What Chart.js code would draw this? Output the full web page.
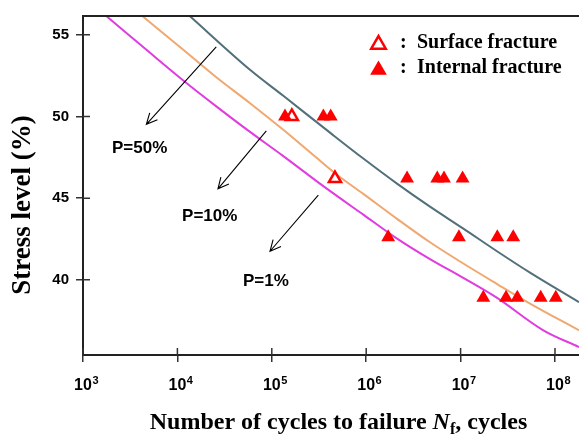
<!DOCTYPE html>
<html>
<head>
<meta charset="utf-8">
<script src="https://cdn.jsdelivr.net/npm/chart.js@4"></script>
<style>
html, body { margin: 0; padding: 0; background: #fff; }
</style>
</head>
<body>
<canvas id="myChart" width="579" height="434"></canvas>
<script>
// tick values
const xTickExp = [3, 4, 5, 6, 7, 8];
const yTicks = [40, 45, 50, 55];

// test data (cycles to failure, stress level %)
const internalN = [1.38e5, 3.52e5, 4.21e5, 2.71e6, 5.66e6, 6.67e6, 1.05e7, 1.71e6, 9.6e6, 2.45e7, 3.61e7, 1.74e7, 3.03e7, 3.99e7, 7.06e7, 1.02e8];
const internalS = [50, 50, 50, 46.2, 46.2, 46.2, 46.2, 42.6, 42.6, 42.6, 42.6, 38.9, 38.9, 38.9, 38.9, 38.9];
const surfaceN = [1.63e5, 4.67e5];
const surfaceS = [50, 46.2];

// P-S-N curves, points
const p50N = [1.35e4, 5.876e4, 1.314e5, 4.135e5, 9.25e5, 2.12e6, 4.74e6, 1.06e7, 2.43e7, 5.44e7, 1.796e8];
const p50S = [56.15, 52.86, 51.28, 49.01, 47.44, 45.89, 44.48, 43.15, 41.75, 40.44, 38.63];
const p10N = [4.25e3, 1.146e4, 2.583e4, 5.833e4, 1.314e5, 2.939e5, 4.673e5, 9.318e5, 2.104e6, 4.74e6, 1.068e7, 2.413e7, 5.44e7, 1.796e8];
const p10S = [56.15, 54.10, 52.40, 50.83, 49.20, 47.50, 46.53, 45.26, 43.75, 42.30, 41.00, 39.76, 38.55, 36.91];
const p1N = [1.765e3, 5.089e3, 1.146e4, 2.583e4, 5.833e4, 1.314e5, 3.486e5, 9.318e5, 2.104e6, 4.74e6, 1.068e7, 2.413e7, 7.52e7, 1.796e8];
const p1S = [56.15, 53.91, 52.22, 50.62, 49.07, 47.59, 45.75, 43.99, 42.54, 41.27, 40.12, 38.91, 36.91, 35.89];

// annotations
const probLabels = ['P=50%', 'P=10%', 'P=1%'];
const labelAt = [[2.03e3, 48.05], [1.12e4, 43.87], [4.95e4, 39.94]];
const arrowFrom = [[2.58e4, 54.26], [8.75e4, 49.12], [3.11e5, 45.18]];
const arrowTo = [[4.69e3, 49.52], [2.69e4, 45.57], [9.57e4, 41.75]];

const pts = (xs, ys) => xs.map((v, i) => ({ x: v, y: ys[i] }));

const decor = {
    id: 'decor',
    afterDraw(chart) {
        const { ctx, chartArea: a, scales: { x, y } } = chart;
        ctx.save();

        // frame top line
        ctx.strokeStyle = '#222';
        ctx.lineWidth = 2;
        ctx.beginPath();
        ctx.moveTo(a.left, a.top);
        ctx.lineTo(a.right, a.top);
        ctx.stroke();

        // inner half of tick marks
        ctx.strokeStyle = '#333';
        ctx.lineWidth = 1.5;
        ctx.beginPath();
        x.ticks.forEach(t => {
            const px = x.getPixelForValue(t.value);
            ctx.moveTo(px, a.bottom);
            ctx.lineTo(px, a.bottom - 7);
        });
        y.ticks.forEach(t => {
            const py = y.getPixelForValue(t.value);
            ctx.moveTo(a.left, py);
            ctx.lineTo(a.left + 7, py);
        });
        ctx.stroke();

        // x tick labels: 10 with raised exponent
        ctx.fillStyle = '#000';
        ctx.textBaseline = 'middle';
        x.ticks.forEach(t => {
            const px = x.getPixelForValue(t.value);
            const e = String(Math.round(Math.log10(t.value)));
            ctx.font = 'bold 16px "Liberation Sans", Arial, sans-serif';
            ctx.textAlign = 'center';
            ctx.fillText('10', px, 386);
            const w = ctx.measureText('10').width;
            ctx.font = 'bold 11px "Liberation Sans", Arial, sans-serif';
            ctx.textAlign = 'left';
            ctx.fillText(e, px + w / 2 + 0.5, 381);
        });

        // arrows
        ctx.strokeStyle = '#000';
        ctx.lineWidth = 1.1;
        arrowFrom.forEach((f, i) => {
            const x0 = x.getPixelForValue(f[0]), y0 = y.getPixelForValue(f[1]);
            const x1 = x.getPixelForValue(arrowTo[i][0]), y1 = y.getPixelForValue(arrowTo[i][1]);
            const ang = Math.atan2(y1 - y0, x1 - x0);
            ctx.beginPath();
            ctx.moveTo(x0, y0);
            ctx.lineTo(x1, y1);
            ctx.moveTo(x1 - 12 * Math.cos(ang - 0.45), y1 - 12 * Math.sin(ang - 0.45));
            ctx.lineTo(x1, y1);
            ctx.lineTo(x1 - 12 * Math.cos(ang + 0.45), y1 - 12 * Math.sin(ang + 0.45));
            ctx.stroke();
        });

        // P labels
        ctx.fillStyle = '#000';
        ctx.font = 'bold 17px "Liberation Sans", Arial, sans-serif';
        ctx.textAlign = 'left';
        ctx.textBaseline = 'middle';
        probLabels.forEach((s, i) => {
            ctx.fillText(s, x.getPixelForValue(labelAt[i][0]), y.getPixelForValue(labelAt[i][1]));
        });

        // legend
        const legendRows = [
            { ds: chart.data.datasets[1], y: 44.5, ty: 42.5, text: 'Surface fracture' },
            { ds: chart.data.datasets[0], y: 70, ty: 67.5, text: 'Internal fracture' }
        ];
        legendRows.forEach(r => {
            ctx.fillStyle = r.ds.pointBackgroundColor;
            ctx.strokeStyle = r.ds.pointBorderColor;
            ctx.lineWidth = r.ds.pointBorderWidth;
            Chart.helpers.drawPoint(ctx, {
                pointStyle: 'triangle', radius: r.ds.pointRadius * 1.2,
                borderWidth: r.ds.pointBorderWidth, rotation: 0
            }, 378.5, r.y);
            ctx.fillStyle = '#000';
            ctx.font = 'bold 20px "Liberation Serif", "Times New Roman", serif';
            ctx.textBaseline = 'middle';
            ctx.fillText(':', 400, r.ty);
            ctx.fillText(r.text, 417, r.ty);
        });

        // y title
        ctx.save();
        ctx.translate(23, 205);
        ctx.rotate(-Math.PI / 2);
        ctx.textAlign = 'center';
        ctx.textBaseline = 'middle';
        ctx.font = 'bold 27px "Liberation Serif", "Times New Roman", serif';
        ctx.fillText('Stress level (%)', 0, 0);
        ctx.restore();

        // x title with italic N and subscript f
        const big = 'bold 24px "Liberation Serif", "Times New Roman", serif';
        const ital = 'italic bold 24px "Liberation Serif", "Times New Roman", serif';
        const small = 'bold 16px "Liberation Serif", "Times New Roman", serif';
        const parts = [
            { t: 'Number of cycles to failure ', f: big, dy: 0 },
            { t: 'N', f: ital, dy: 0 },
            { t: 'f', f: small, dy: 5 },
            { t: ', cycles', f: big, dy: 0 }
        ];
        let w = 0;
        parts.forEach(p => { ctx.font = p.f; w += ctx.measureText(p.t).width; });
        let cx = 338.5 - w / 2;
        ctx.textAlign = 'left';
        ctx.textBaseline = 'alphabetic';
        parts.forEach(p => {
            ctx.font = p.f;
            ctx.fillText(p.t, cx, 429 + p.dy);
            cx += ctx.measureText(p.t).width;
        });

        ctx.restore();
    }
};

const ctx = document.getElementById('myChart').getContext('2d');

const config = {
    type: 'scatter',
    data: {
        datasets: [{
            label: 'Internal fracture',
            data: pts(internalN, internalS),
            pointStyle: 'triangle',
            pointRadius: 8,
            pointBackgroundColor: '#ff0000',
            pointBorderColor: '#ff0000',
            pointBorderWidth: 0,
            order: 0
        }, {
            label: 'Surface fracture',
            data: pts(surfaceN, surfaceS),
            pointStyle: 'triangle',
            pointRadius: 7,
            pointBackgroundColor: '#ffffff',
            pointBorderColor: '#ff0000',
            pointBorderWidth: 2.5,
            order: 1
        }, {
            label: 'P=50%',
            data: pts(p50N, p50S),
            showLine: true,
            borderColor: '#52707a',
            borderWidth: 2,
            pointRadius: 0,
            cubicInterpolationMode: 'monotone',
            order: 2
        }, {
            label: 'P=10%',
            data: pts(p10N, p10S),
            showLine: true,
            borderColor: '#f0a870',
            borderWidth: 2,
            pointRadius: 0,
            cubicInterpolationMode: 'monotone',
            order: 2
        }, {
            label: 'P=1%',
            data: pts(p1N, p1S),
            showLine: true,
            borderColor: '#e03ce0',
            borderWidth: 2,
            pointRadius: 0,
            cubicInterpolationMode: 'monotone',
            order: 2
        }]
    },
    options: {
        responsive: false,
        animation: false,
        layout: { autoPadding: false, padding: { top: 12, left: 0, right: 0, bottom: 0 } },
        scales: {
            x: {
                type: 'logarithmic',
                min: 1e3,
                max: 1.796e8,
                afterBuildTicks: s => { s.ticks = xTickExp.map(e => ({ value: Math.pow(10, e) })); },
                afterFit: s => { s.height = 79; },
                grid: { drawOnChartArea: false, tickLength: 7, color: '#333', lineWidth: 1.5 },
                border: { color: '#222', width: 2 },
                ticks: {
                    autoSkip: false,
                    maxRotation: 0,
                    callback: () => ''
                }
            },
            y: {
                min: 35.4,
                max: 56.15,
                afterBuildTicks: s => { s.ticks = yTicks.map(v => ({ value: v })); },
                afterFit: s => { s.width = 83; },
                grid: { drawOnChartArea: false, tickLength: 7, color: '#333', lineWidth: 1.5 },
                border: { color: '#222', width: 2 },
                ticks: {
                    padding: 7,
                    color: '#000',
                    font: { family: '"Liberation Sans", Arial, sans-serif', weight: 'bold', size: 15 }
                }
            }
        },
        plugins: {
            legend: { display: false },
            tooltip: { enabled: false }
        }
    },
    plugins: [decor]
};

const myChart = new Chart(ctx, config);
</script>
</body>
</html>
